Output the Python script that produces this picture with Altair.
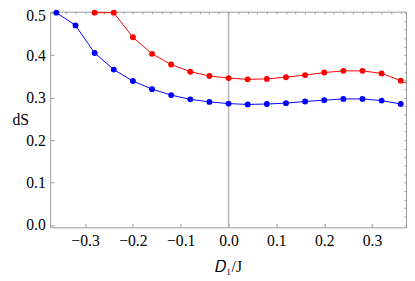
import altair as alt
import pandas as pd

# x positions (D1/J)
x_blue = [-0.36, -0.32, -0.28, -0.24, -0.20, -0.16, -0.12, -0.08, -0.04, 0.00,
          0.04, 0.08, 0.12, 0.16, 0.20, 0.24, 0.28, 0.32, 0.36]
y_blue = [0.500, 0.470, 0.405, 0.366, 0.339, 0.320, 0.306, 0.296, 0.290, 0.286,
          0.284, 0.285, 0.287, 0.291, 0.294, 0.297, 0.297, 0.293, 0.285]

x_red = [-0.28, -0.24, -0.20, -0.16, -0.12, -0.08, -0.04, 0.00, 0.04, 0.08,
         0.12, 0.16, 0.20, 0.24, 0.28, 0.32, 0.36, 0.40]
y_red = [0.500, 0.500, 0.442, 0.403, 0.378, 0.361, 0.351, 0.346, 0.343, 0.344,
         0.348, 0.353, 0.359, 0.363, 0.363, 0.357, 0.340, 0.318]

x_major = [-0.3, -0.2, -0.1, 0.0, 0.1, 0.2, 0.3]
x_minor = [round(-0.36 + 0.02 * i, 2) for i in range(37)]
y_major = [0.0, 0.1, 0.2, 0.3, 0.4, 0.5]
y_minor = [round(0.02 * i, 2) for i in range(26)]

df = pd.concat([
    pd.DataFrame({"x": x_blue, "y": y_blue, "s": "blue"}),
    pd.DataFrame({"x": x_red, "y": y_red, "s": "red"}),
])

FRAME = "#999999"
FONT = "Liberation Serif"
FS = 16

xscale = alt.Scale(domain=[-0.373, 0.371], nice=False, zero=False)
yscale = alt.Scale(domain=[-0.0053, 0.5023], nice=False, zero=False)
cscale = alt.Scale(domain=["blue", "red"], range=["#0000ff", "#ff0000"])

x_major_axis = alt.Axis(values=x_major, format=".1f", tickSize=4, offset=-4,
                        domain=False, grid=False, tickColor=FRAME, labelPadding=6,
                        title="\U0001D437\u2081/J", titleFontWeight="normal", titlePadding=10)
y_major_axis = alt.Axis(values=y_major, format=".1f", tickSize=4, offset=-4,
                        domain=False, grid=False, tickColor=FRAME, labelPadding=5,
                        labelOffset={"condition": {"test": "datum.value >= 0.5", "value": 3},
                                     "value": 0},
                        title="dS", titleAngle=0, titleAlign="left",
                        titleBaseline="middle", titleX=-43, titleY=110,
                        titleFontWeight="normal")
x_minor_axis = alt.Axis(values=x_minor, tickSize=2, offset=-2, labels=False,
                        domain=False, grid=False, tickColor=FRAME, title=None)
y_minor_axis = alt.Axis(values=y_minor, tickSize=2, offset=-2, labels=False,
                        domain=False, grid=False, tickColor=FRAME, title=None)

base = alt.Chart(df)

lines = base.mark_line(strokeWidth=1, clip=True).encode(
    x=alt.X("x:Q", scale=xscale, axis=x_major_axis),
    y=alt.Y("y:Q", scale=yscale, axis=y_major_axis),
    color=alt.Color("s:N", scale=cscale, legend=None),
    detail="s:N",
)

points = base.transform_filter("datum.x <= 0.37").mark_circle(size=36, opacity=1).encode(
    x=alt.X("x:Q", scale=xscale, axis=x_minor_axis),
    y=alt.Y("y:Q", scale=yscale, axis=y_minor_axis),
    color=alt.Color("s:N", scale=cscale, legend=None),
)

zero_rule = alt.Chart(pd.DataFrame({"x": [0.0]})).mark_rule(
    color="#b5b5b5", strokeWidth=1.5).encode(
    x=alt.X("x:Q", scale=xscale, axis=None))

chart = alt.layer(zero_rule, lines, points).resolve_axis(
    x="independent", y="independent"
).properties(
    width=363, height=220,
    autosize=alt.AutoSizeParams(type="none"),
    padding={"left": 43, "top": 1, "right": 1, "bottom": 53},
).configure_view(
    stroke=FRAME, strokeWidth=1
).configure_axis(
    labelFont=FONT, titleFont=FONT, labelFontSize=FS, titleFontSize=FS,
    labelColor="black", titleColor="black"
)

chart.save("out.html", embed_options={"renderer": "svg", "actions": False})
